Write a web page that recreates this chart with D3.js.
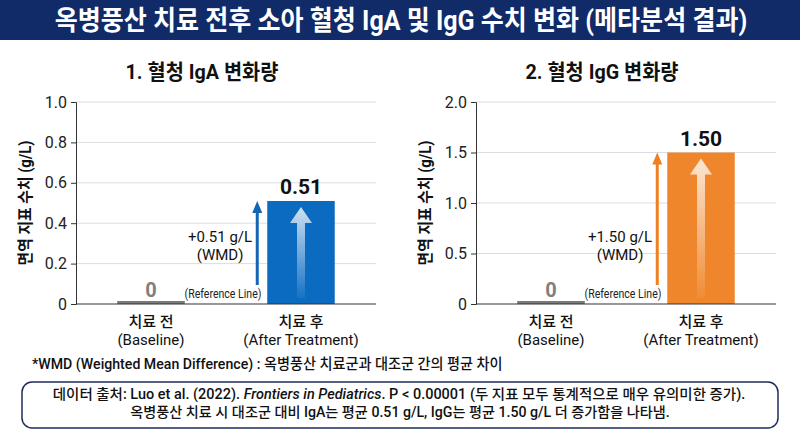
<!DOCTYPE html>
<html>
<head>
<meta charset="utf-8">
<script src="https://cdn.jsdelivr.net/npm/d3@7"></script>
<style>
  html, body { margin: 0; padding: 0; background: #fff; }
  svg { display: block; font-family: Roboto, "Noto Sans CJK KR", sans-serif; }
</style>
</head>
<body>
<div id="chart"></div>
<script>
const titleText = "옥병풍산 치료 전후 소아 혈청 IgA 및 IgG 수치 변화 (메타분석 결과)";
const panelTitles = ["1. 혈청 IgA 변화량", "2. 혈청 IgG 변화량"];
const categoriesKo = ["치료 전", "치료 후"];
const categoriesEn = ["(Baseline)", "(After Treatment)"];
const igaValues = [0, 0.51];
const iggValues = [0, 1.50];
const igaTicks = [0, 0.2, 0.4, 0.6, 0.8, 1.0];
const iggTicks = [0, 0.5, 1.0, 1.5, 2.0];
const valueLabels = [["0", "0.51"], ["0", "1.50"]];
const wmdLabels = ["+0.51 g/L", "+1.50 g/L"];
const yLabel = "면역 지표 수치 (g/L)";
const footnote = "*WMD (Weighted Mean Difference) : 옥병풍산 치료군과 대조군 간의 평균 차이";

const width = 800, height = 436;
const svg = d3.select("#chart").append("svg")
    .attr("width", width)
    .attr("height", height);

const defs = svg.append("defs");
const grad = defs.append("linearGradient")
    .attr("id", "innerArrow")
    .attr("x1", 0).attr("y1", 0).attr("x2", 0).attr("y2", 1);
grad.append("stop").attr("offset", "0%").attr("stop-color", "#fff").attr("stop-opacity", 0.8);
grad.append("stop").attr("offset", "100%").attr("stop-color", "#fff").attr("stop-opacity", 0.05);

// squeeze a text element horizontally to a target width
function fitText(sel, cx, y, target) {
    const w = sel.node().getComputedTextLength();
    const s = target / w;
    sel.attr("x", 0).attr("y", 0)
        .attr("transform", `translate(${cx},${y}) scale(${s},1)`);
}

// title bar
svg.append("rect")
    .attr("x", 0).attr("y", 0)
    .attr("width", width).attr("height", 40)
    .attr("fill", "#112a68");
const title = svg.append("text")
    .attr("text-anchor", "middle")
    .attr("font-size", 27)
    .attr("font-weight", 700)
    .attr("fill", "#fff")
    .text(titleText);
fitText(title, 401, 30, 693);

function drawPanel(p) {
    const g = svg.append("g");
    const x = d3.scaleBand()
        .domain(categoriesKo)
        .range([p.left, p.left + 300])
        .paddingInner(0.55)
        .paddingOuter(0.275);
    const y = d3.scaleLinear()
        .domain([0, p.max])
        .range([304, 102]);

    const sub = g.append("text")
        .attr("text-anchor", "middle")
        .attr("font-size", 21)
        .attr("font-weight", 700)
        .attr("fill", "#111")
        .text(p.title);
    fitText(sub, p.left + 126, 79, 153);

    // grid
    g.selectAll(".grid")
        .data(p.ticks.filter(t => t > 0))
        .enter().append("line")
        .attr("x1", p.left).attr("x2", p.left + 300)
        .attr("y1", d => y(d)).attr("y2", d => y(d))
        .attr("stroke", "#dcdde2")
        .attr("stroke-width", 1);

    // y axis
    const yAxis = g.append("g")
        .attr("transform", `translate(${p.left},0)`)
        .call(d3.axisLeft(y).tickValues(p.ticks).tickSize(5).tickPadding(4)
            .tickFormat(d => d === 0 ? "0" : d.toFixed(1)));
    yAxis.select(".domain").attr("stroke", "#333");
    yAxis.selectAll(".tick line").attr("stroke", "#333");
    yAxis.selectAll("text").attr("font-size", 16).attr("fill", "#222")
        .attr("font-family", "Roboto, sans-serif");

    const yl = g.append("text")
        .attr("text-anchor", "middle")
        .attr("font-size", 16)
        .attr("font-weight", 700)
        .attr("fill", "#111")
        .text(yLabel);
    const ylw = yl.node().getComputedTextLength();
    yl.attr("transform", `translate(${p.left - 45},203) rotate(-90) scale(${125 / ylw},1)`);

    // bars
    const data = categoriesKo.map((c, i) => ({ cat: c, value: p.values[i], label: p.labels[i], i }));
    g.selectAll(".bar")
        .data(data)
        .enter().append("rect")
        .attr("x", d => x(d.cat))
        .attr("width", x.bandwidth())
        .attr("y", d => d.value === 0 ? y(0) - 3 : y(d.value))
        .attr("height", d => d.value === 0 ? 3 : y(0) - y(d.value))
        .attr("fill", d => d.value === 0 ? "#7a7a7a" : p.color);

    g.selectAll(".val")
        .data(data)
        .enter().append("text")
        .attr("x", d => x(d.cat) + x.bandwidth() / 2)
        .attr("y", d => (d.value === 0 ? y(0) - 7 : y(d.value) - 7))
        .attr("text-anchor", "middle")
        .attr("font-size", d => d.value === 0 ? 20 : 21)
        .attr("font-weight", 700)
        .attr("fill", d => d.value === 0 ? "#808080" : "#111")
        .text(d => d.label);

    // inner arrow on the treatment bar
    const after = data[1];
    const cx = x(after.cat) + x.bandwidth() / 2;
    const top = y(after.value) + 6, bot = y(0) - 6;
    g.append("path")
        .attr("d", `M${cx - 4},${bot} L${cx - 4},${top + 16} L${cx - 11},${top + 16} L${cx},${top} L${cx + 11},${top + 16} L${cx + 4},${top + 16} L${cx + 4},${bot} Z`)
        .attr("fill", "url(#innerArrow)");

    // WMD annotation arrow
    const ax = x(after.cat) - 10;
    const aTop = y(after.value), aBot = y(0) - 19;
    g.append("line")
        .attr("x1", ax).attr("x2", ax)
        .attr("y1", aBot).attr("y2", aTop + 10)
        .attr("stroke", p.arrowColor)
        .attr("stroke-width", 3);
    g.append("path")
        .attr("d", `M${ax - 5},${aTop + 12} L${ax},${aTop} L${ax + 5},${aTop + 12} Z`)
        .attr("fill", p.arrowColor);

    g.append("text")
        .attr("x", p.left + 144).attr("y", 242)
        .attr("text-anchor", "middle")
        .attr("font-size", 15)
        .attr("fill", "#111")
        .text(p.wmd);
    g.append("text")
        .attr("x", p.left + 144).attr("y", 260)
        .attr("text-anchor", "middle")
        .attr("font-size", 15)
        .attr("fill", "#111")
        .text("(WMD)");
    const ref = g.append("text")
        .attr("text-anchor", "middle")
        .attr("font-size", 12)
        .attr("fill", "#222")
        .text("(Reference Line)");
    fitText(ref, p.left + 147, 298, 77);

    // category labels
    g.selectAll(".catKo")
        .data(data)
        .enter().append("text")
        .attr("x", d => x(d.cat) + x.bandwidth() / 2)
        .attr("y", 327)
        .attr("text-anchor", "middle")
        .attr("font-size", 15)
        .attr("font-weight", 500)
        .attr("fill", "#111")
        .text(d => d.cat);
    g.selectAll(".catEn")
        .data(data)
        .enter().append("text")
        .attr("x", d => x(d.cat) + x.bandwidth() / 2)
        .attr("y", 345)
        .attr("text-anchor", "middle")
        .attr("font-size", 15)
        .attr("fill", "#111")
        .text((d, i) => categoriesEn[i]);

    // x baseline
    g.append("line")
        .attr("x1", p.left).attr("x2", p.left + 300)
        .attr("y1", y(0)).attr("y2", y(0))
        .attr("stroke", "#333")
        .attr("stroke-width", 1.2);
}

drawPanel({ left: 76, max: 1.0, ticks: igaTicks, values: igaValues, labels: valueLabels[0],
    title: panelTitles[0], wmd: wmdLabels[0], color: "#0b6bc1", arrowColor: "#1466b4" });
drawPanel({ left: 476, max: 2.0, ticks: iggTicks, values: iggValues, labels: valueLabels[1],
    title: panelTitles[1], wmd: wmdLabels[1], color: "#f0862b", arrowColor: "#f07f22" });

// footnote
const fn = svg.append("text")
    .attr("text-anchor", "start")
    .attr("font-size", 15)
    .attr("font-weight", 500)
    .attr("fill", "#111")
    .text(footnote);
fitText(fn, 32, 369, 471);

// source box
svg.append("rect")
    .attr("x", 22).attr("y", 382)
    .attr("width", 756).attr("height", 46)
    .attr("rx", 10)
    .attr("fill", "#fff")
    .attr("stroke", "#1f2d5e")
    .attr("stroke-width", 1.5);

const line1 = svg.append("text")
    .attr("text-anchor", "middle")
    .attr("font-size", 14)
    .attr("font-weight", 500)
    .attr("fill", "#111");
line1.append("tspan").text("데이터 출처: Luo et al. (2022). ");
line1.append("tspan").attr("font-style", "italic").text("Frontiers in Pediatrics");
line1.append("tspan").text(". P < 0.00001 (두 지표 모두 통계적으로 매우 유의미한 증가).");
fitText(line1, 399, 399, 693);

const line2 = svg.append("text")
    .attr("text-anchor", "middle")
    .attr("font-size", 14)
    .attr("font-weight", 500)
    .attr("fill", "#111")
    .text("옥병풍산 치료 시 대조군 대비 IgA는 평균 0.51 g/L, IgG는 평균 1.50 g/L 더 증가함을 나타냄.");
fitText(line2, 400, 417, 540);
</script>
</body>
</html>
